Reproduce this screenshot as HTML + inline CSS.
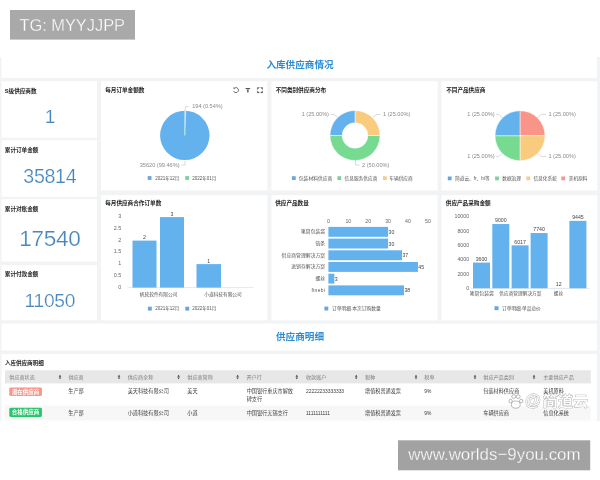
<!DOCTYPE html>
<html lang="zh"><head><meta charset="utf-8"><title>入库供应商情况</title>
<style>
html,body{margin:0;padding:0;width:600px;height:480px;overflow:hidden;background:#fff;font-family:"Liberation Sans","Noto Sans CJK SC",sans-serif;}
#root{position:relative;width:600px;height:480px;overflow:hidden;will-change:transform;}
#root>div{position:absolute;}
svg{position:absolute;left:0;top:0;}
svg text{font-family:"Liberation Sans","Noto Sans CJK SC",sans-serif;}
.tag{position:absolute;color:#fff;font-family:"Liberation Sans","Noto Sans CJK SC",sans-serif;white-space:nowrap;}
</style></head><body><div id="root">

<svg width="600" height="480" viewBox="0 0 600 480">
<rect x="0" y="57" width="600" height="364.2" fill="#f2f3f5" />
<rect x="1.5" y="57" width="595.5" height="21" fill="#fff" />
<rect x="1.5" y="323.6" width="595.5" height="27" fill="#fff" />
<rect x="1.5" y="354" width="595.5" height="66.7" fill="#fff" />
<rect x="1.5" y="81.3" width="95.5" height="56.4" fill="#fff" />
<rect x="1.5" y="140.2" width="95.5" height="56.5" fill="#fff" />
<rect x="1.5" y="199.2" width="95.5" height="62.4" fill="#fff" />
<rect x="1.5" y="265.2" width="95.5" height="55.1" fill="#fff" />
<rect x="101" y="81.3" width="166.3" height="109.2" fill="#fff" />
<rect x="101" y="195.2" width="166.3" height="125.2" fill="#fff" />
<rect x="271.4" y="81.3" width="166.2" height="109.2" fill="#fff" />
<rect x="271.4" y="195.2" width="166.2" height="125.2" fill="#fff" />
<rect x="441.5" y="81.3" width="155.8" height="109.2" fill="#fff" />
<rect x="441.5" y="195.2" width="155.8" height="125.2" fill="#fff" />
<text x="300" y="64.1" font-size="9.6" fill="#2b8bd4" font-weight="bold" text-anchor="middle" dominant-baseline="central" >入库供应商情况</text>
<text x="300" y="336.3" font-size="9.6" fill="#2b8bd4" font-weight="bold" text-anchor="middle" dominant-baseline="central" >供应商明细</text>
<text x="4.8" y="90.5" font-size="5.62" fill="#1c1c1c" font-weight="bold" text-anchor="start" dominant-baseline="central" >S级供应商数</text>
<text x="49.8" y="116.8" font-size="19" fill="#4787be" font-weight="normal" text-anchor="middle" dominant-baseline="central" stroke="#fff" stroke-width="0.22" letter-spacing="-0.3">1</text>
<text x="4.8" y="150" font-size="5.62" fill="#1c1c1c" font-weight="bold" text-anchor="start" dominant-baseline="central" >累计订单金额</text>
<text x="49.8" y="176.3" font-size="19.6" fill="#4787be" font-weight="normal" text-anchor="middle" dominant-baseline="central" stroke="#fff" stroke-width="0.22" letter-spacing="-0.3">35814</text>
<text x="4.8" y="208.5" font-size="5.62" fill="#1c1c1c" font-weight="bold" text-anchor="start" dominant-baseline="central" >累计对账金额</text>
<text x="49.8" y="238.8" font-size="22.6" fill="#4787be" font-weight="normal" text-anchor="middle" dominant-baseline="central" stroke="#fff" stroke-width="0.22" letter-spacing="-0.3">17540</text>
<text x="4.8" y="274" font-size="5.62" fill="#1c1c1c" font-weight="bold" text-anchor="start" dominant-baseline="central" >累计付款金额</text>
<text x="49.8" y="300.8" font-size="19.2" fill="#4787be" font-weight="normal" text-anchor="middle" dominant-baseline="central" stroke="#fff" stroke-width="0.22" letter-spacing="-0.3">11050</text>
<text x="105.2" y="90.4" font-size="5.62" fill="#1c1c1c" font-weight="bold" text-anchor="start" dominant-baseline="central" >每月订单金额数</text>
<text x="275.7" y="90.4" font-size="5.62" fill="#1c1c1c" font-weight="bold" text-anchor="start" dominant-baseline="central" >不同类别供应商分布</text>
<text x="446.2" y="90.4" font-size="5.62" fill="#1c1c1c" font-weight="bold" text-anchor="start" dominant-baseline="central" >不同产品供应商</text>
<text x="105.2" y="203" font-size="5.62" fill="#1c1c1c" font-weight="bold" text-anchor="start" dominant-baseline="central" >每月供应商合作订单数</text>
<text x="275.2" y="203" font-size="5.62" fill="#1c1c1c" font-weight="bold" text-anchor="start" dominant-baseline="central" >供应产品数量</text>
<text x="445.8" y="203" font-size="5.62" fill="#1c1c1c" font-weight="bold" text-anchor="start" dominant-baseline="central" >供应产品采购金额</text>
<circle cx="184.8" cy="135.4" r="24.7" fill="#63b2ee"/>
<path d="M184.8,135.4 L184.8,110.7 L185.70000000000002,110.7 Z" fill="#d9f3e0" stroke="#e8f6ec" stroke-width="0.5"/>
<polyline points="185.2,110.5 185.2,106.6 188.5,106.6" fill="none" stroke="#b5b5b5" stroke-width="0.5"/>
<text x="192.2" y="106.3" font-size="5.6" fill="#8a8a8a" font-weight="normal" text-anchor="start" dominant-baseline="central" >194 (0.54%)</text>
<polyline points="185,160.5 185,165 181.5,165" fill="none" stroke="#b5b5b5" stroke-width="0.5"/>
<text x="179.5" y="165" font-size="5.6" fill="#8a8a8a" font-weight="normal" text-anchor="end" dominant-baseline="central" >35620 (99.46%)</text>
<rect x="147.7" y="176.1" width="3.8" height="3.8" fill="#6aa6dc" />
<text x="155.3" y="178" font-size="4.5" fill="#555" font-weight="normal" text-anchor="start" dominant-baseline="central" >2021年12月</text>
<rect x="185.2" y="176.1" width="3.8" height="3.8" fill="#7fd0a0" />
<text x="192.2" y="178" font-size="4.5" fill="#555" font-weight="normal" text-anchor="start" dominant-baseline="central" >2022年01月</text>
<path d="M233.6,90.9 A2.5,2.5 0 1 0 234.3,88.3" fill="none" stroke="#555" stroke-width="0.85"/><path d="M233.2,87.6 l1.7,0.2 l-0.9,1.6 Z" fill="#555"/>
<path d="M245.6,88 h4.5 v0.9 h-4.5 Z M246.5,89.4 h2.7 l-0.7,1.4 v1.8 h-1.3 v-1.8 Z" fill="#555"/>
<path d="M257.3,89.6 v-2.1 h2.1 Z M260.5,87.5 h2.1 v2.1 Z M262.6,90.8 v2.1 h-2.1 Z M259.4,92.9 h-2.1 v-2.1 Z" fill="#555" stroke="#555" stroke-width="0.3"/>
<path d="M355.00,110.50 A25,25 0 0 1 380.00,135.50 L367.80,135.50 A12.8,12.8 0 0 0 355.00,122.70 Z" fill="#f8cb7f" stroke="#fff" stroke-width="0.5"/>
<path d="M380.00,135.50 A25,25 0 0 1 330.00,135.50 L342.20,135.50 A12.8,12.8 0 0 0 367.80,135.50 Z" fill="#76da91" stroke="#fff" stroke-width="0.5"/>
<path d="M330.00,135.50 A25,25 0 0 1 355.00,110.50 L355.00,122.70 A12.8,12.8 0 0 0 342.20,135.50 Z" fill="#63b2ee" stroke="#fff" stroke-width="0.5"/>
<polyline points="337.5,117 334,114.5 330.5,114.5" fill="none" stroke="#b5b5b5" stroke-width="0.5"/>
<text x="329" y="114.4" font-size="5.6" fill="#8a8a8a" font-weight="normal" text-anchor="end" dominant-baseline="central" >1 (25.00%)</text>
<polyline points="373,117 376.5,114.5 380.5,114.5" fill="none" stroke="#b5b5b5" stroke-width="0.5"/>
<text x="383" y="114.4" font-size="5.6" fill="#8a8a8a" font-weight="normal" text-anchor="start" dominant-baseline="central" >1 (25.00%)</text>
<polyline points="355.5,159.8 355.5,165 359.5,165" fill="none" stroke="#b5b5b5" stroke-width="0.5"/>
<text x="362" y="165" font-size="5.6" fill="#8a8a8a" font-weight="normal" text-anchor="start" dominant-baseline="central" >2 (50.00%)</text>
<rect x="291.9" y="176.2" width="3.8" height="3.8" fill="#6aa6dc" />
<text x="298.8" y="178.1" font-size="4.8" fill="#555" font-weight="normal" text-anchor="start" dominant-baseline="central" >包装材料供应商</text>
<rect x="337.4" y="176.2" width="3.8" height="3.8" fill="#7fd0a0" />
<text x="344.5" y="178.1" font-size="4.7" fill="#555" font-weight="normal" text-anchor="start" dominant-baseline="central" >信息服务供应商</text>
<rect x="382.9" y="176.2" width="3.8" height="3.8" fill="#f4cd8e" />
<text x="389.3" y="178.1" font-size="4.7" fill="#555" font-weight="normal" text-anchor="start" dominant-baseline="central" >车辆供应商</text>
<path d="M520,135.7 L520.00,110.70 A25,25 0 0 1 545.00,135.70 Z" fill="#f89588" stroke="#fff" stroke-width="0.5"/>
<path d="M520,135.7 L545.00,135.70 A25,25 0 0 1 520.00,160.70 Z" fill="#f8cb7f" stroke="#fff" stroke-width="0.5"/>
<path d="M520,135.7 L520.00,160.70 A25,25 0 0 1 495.00,135.70 Z" fill="#76da91" stroke="#fff" stroke-width="0.5"/>
<path d="M520,135.7 L495.00,135.70 A25,25 0 0 1 520.00,110.70 Z" fill="#63b2ee" stroke="#fff" stroke-width="0.5"/>
<polyline points="502.3,118 499,114.4 496,114.4" fill="none" stroke="#b5b5b5" stroke-width="0.5"/>
<text x="494.6" y="114.1" font-size="5.6" fill="#8a8a8a" font-weight="normal" text-anchor="end" dominant-baseline="central" >1 (25.00%)</text>
<polyline points="537.7,118 541,114.4 546,114.4" fill="none" stroke="#b5b5b5" stroke-width="0.5"/>
<text x="548.4" y="114.1" font-size="5.6" fill="#8a8a8a" font-weight="normal" text-anchor="start" dominant-baseline="central" >1 (25.00%)</text>
<polyline points="502.3,153.4 499,156.4 496,156.4" fill="none" stroke="#b5b5b5" stroke-width="0.5"/>
<text x="494.6" y="156.4" font-size="5.6" fill="#8a8a8a" font-weight="normal" text-anchor="end" dominant-baseline="central" >1 (25.00%)</text>
<polyline points="537.7,153.4 541,156.4 546,156.4" fill="none" stroke="#b5b5b5" stroke-width="0.5"/>
<text x="548.4" y="156.4" font-size="5.6" fill="#8a8a8a" font-weight="normal" text-anchor="start" dominant-baseline="central" >1 (25.00%)</text>
<rect x="447.8" y="176.5" width="3.8" height="3.8" fill="#6aa6dc" />
<text x="455" y="178.4" font-size="4.7" fill="#555" font-weight="normal" text-anchor="start" dominant-baseline="central" >简道云、fr、bi等</text>
<rect x="495.1" y="176.5" width="3.8" height="3.8" fill="#7fd0a0" />
<text x="502.2" y="178.4" font-size="4.7" fill="#555" font-weight="normal" text-anchor="start" dominant-baseline="central" >数据治理</text>
<rect x="526.3" y="176.5" width="3.8" height="3.8" fill="#f4cd8e" />
<text x="533.4" y="178.4" font-size="4.7" fill="#555" font-weight="normal" text-anchor="start" dominant-baseline="central" >信息化系统</text>
<rect x="561.3" y="176.5" width="3.8" height="3.8" fill="#f0988c" />
<text x="568.8" y="178.4" font-size="4.7" fill="#555" font-weight="normal" text-anchor="start" dominant-baseline="central" >美机原料</text>
<text x="121.3" y="216.10000000000002" font-size="5.4" fill="#666" font-weight="normal" text-anchor="end" dominant-baseline="central" >3</text>
<text x="121.3" y="227.85000000000002" font-size="5.4" fill="#666" font-weight="normal" text-anchor="end" dominant-baseline="central" >2.5</text>
<text x="121.3" y="239.60000000000002" font-size="5.4" fill="#666" font-weight="normal" text-anchor="end" dominant-baseline="central" >2</text>
<text x="121.3" y="251.35000000000002" font-size="5.4" fill="#666" font-weight="normal" text-anchor="end" dominant-baseline="central" >1.5</text>
<text x="121.3" y="263.1" font-size="5.4" fill="#666" font-weight="normal" text-anchor="end" dominant-baseline="central" >1</text>
<text x="121.3" y="274.85" font-size="5.4" fill="#666" font-weight="normal" text-anchor="end" dominant-baseline="central" >0.5</text>
<text x="121.3" y="286.6" font-size="5.4" fill="#666" font-weight="normal" text-anchor="end" dominant-baseline="central" >0</text>
<polyline points="128,287.6 254,287.6" fill="none" stroke="#d0d0d0" stroke-width="0.5"/>
<rect x="132.5" y="240.60000000000002" width="24.0" height="47.0" fill="#63b2ee" />
<text x="144.5" y="237.00000000000003" font-size="5.2" fill="#444" font-weight="normal" text-anchor="middle" dominant-baseline="central" >2</text>
<rect x="160" y="217.10000000000002" width="24" height="70.5" fill="#63b2ee" />
<text x="172.0" y="213.50000000000003" font-size="5.2" fill="#444" font-weight="normal" text-anchor="middle" dominant-baseline="central" >3</text>
<rect x="196.5" y="264.1" width="24.5" height="23.5" fill="#63b2ee" />
<text x="208.75" y="260.5" font-size="5.2" fill="#444" font-weight="normal" text-anchor="middle" dominant-baseline="central" >1</text>
<text x="158.6" y="294.6" font-size="4.7" fill="#555" font-weight="normal" text-anchor="middle" dominant-baseline="central" >帆软软件有限公司</text>
<text x="223" y="294.6" font-size="4.7" fill="#555" font-weight="normal" text-anchor="middle" dominant-baseline="central" >小道科技有限公司</text>
<rect x="147.9" y="306.7" width="3.9" height="3.9" fill="#6aa6dc" />
<text x="155.3" y="308.7" font-size="4.5" fill="#555" font-weight="normal" text-anchor="start" dominant-baseline="central" >2021年12月</text>
<rect x="185.3" y="306.7" width="3.9" height="3.9" fill="#6aa6dc" />
<text x="192.2" y="308.7" font-size="4.5" fill="#555" font-weight="normal" text-anchor="start" dominant-baseline="central" >2022年01月</text>
<text x="328.4" y="221" font-size="5.2" fill="#666" font-weight="normal" text-anchor="middle" dominant-baseline="central" >0</text>
<text x="348.29999999999995" y="221" font-size="5.2" fill="#666" font-weight="normal" text-anchor="middle" dominant-baseline="central" >10</text>
<text x="368.2" y="221" font-size="5.2" fill="#666" font-weight="normal" text-anchor="middle" dominant-baseline="central" >20</text>
<text x="388.09999999999997" y="221" font-size="5.2" fill="#666" font-weight="normal" text-anchor="middle" dominant-baseline="central" >30</text>
<text x="408.0" y="221" font-size="5.2" fill="#666" font-weight="normal" text-anchor="middle" dominant-baseline="central" >40</text>
<text x="427.9" y="221" font-size="5.2" fill="#666" font-weight="normal" text-anchor="middle" dominant-baseline="central" >50</text>
<rect x="328.4" y="226.9" width="59.7" height="9.9" fill="#63b2ee" />
<text x="325.2" y="231.85" font-size="4.85" fill="#555" font-weight="normal" text-anchor="end" dominant-baseline="central" >笔筒包装袋</text>
<text x="388.49999999999994" y="231.85" font-size="5.2" fill="#444" font-weight="normal" text-anchor="start" dominant-baseline="central" >30</text>
<rect x="328.4" y="238.6" width="59.7" height="9.9" fill="#63b2ee" />
<text x="325.2" y="243.54999999999998" font-size="4.85" fill="#555" font-weight="normal" text-anchor="end" dominant-baseline="central" >链条</text>
<text x="388.49999999999994" y="243.54999999999998" font-size="5.2" fill="#444" font-weight="normal" text-anchor="start" dominant-baseline="central" >30</text>
<rect x="328.4" y="250.3" width="73.63" height="9.9" fill="#63b2ee" />
<text x="325.2" y="255.25" font-size="4.85" fill="#555" font-weight="normal" text-anchor="end" dominant-baseline="central" >供应商管理解决方案</text>
<text x="402.42999999999995" y="255.25" font-size="5.2" fill="#444" font-weight="normal" text-anchor="start" dominant-baseline="central" >37</text>
<rect x="328.4" y="262.0" width="89.55" height="9.9" fill="#63b2ee" />
<text x="325.2" y="266.95" font-size="4.85" fill="#555" font-weight="normal" text-anchor="end" dominant-baseline="central" >进销存解决方案</text>
<text x="418.34999999999997" y="266.95" font-size="5.2" fill="#444" font-weight="normal" text-anchor="start" dominant-baseline="central" >45</text>
<rect x="328.4" y="273.7" width="5.97" height="9.9" fill="#63b2ee" />
<text x="325.2" y="278.65" font-size="4.85" fill="#555" font-weight="normal" text-anchor="end" dominant-baseline="central" >螺丝</text>
<text x="334.77" y="278.65" font-size="5.2" fill="#444" font-weight="normal" text-anchor="start" dominant-baseline="central" >3</text>
<rect x="328.4" y="285.40000000000003" width="75.62" height="9.9" fill="#63b2ee" />
<text x="325.2" y="290.35" font-size="4.85" fill="#555" font-weight="normal" text-anchor="end" dominant-baseline="central" letter-spacing="0.35">finebi</text>
<text x="404.41999999999996" y="290.35" font-size="5.2" fill="#444" font-weight="normal" text-anchor="start" dominant-baseline="central" >38</text>
<rect x="324.4" y="306.6" width="3.9" height="3.9" fill="#6aa6dc" />
<text x="331.9" y="308.6" font-size="4.78" fill="#555" font-weight="normal" text-anchor="start" dominant-baseline="central" >订单明细.本次订购数量</text>
<text x="469.2" y="216.4" font-size="5.3" fill="#666" font-weight="normal" text-anchor="end" dominant-baseline="central" >10000</text>
<text x="469.2" y="230.68" font-size="5.3" fill="#666" font-weight="normal" text-anchor="end" dominant-baseline="central" >8000</text>
<text x="469.2" y="244.96" font-size="5.3" fill="#666" font-weight="normal" text-anchor="end" dominant-baseline="central" >6000</text>
<text x="469.2" y="259.24" font-size="5.3" fill="#666" font-weight="normal" text-anchor="end" dominant-baseline="central" >4000</text>
<text x="469.2" y="273.52" font-size="5.3" fill="#666" font-weight="normal" text-anchor="end" dominant-baseline="central" >2000</text>
<text x="469.2" y="287.8" font-size="5.3" fill="#666" font-weight="normal" text-anchor="end" dominant-baseline="central" >0</text>
<polyline points="471,288.3 590,288.3" fill="none" stroke="#d0d0d0" stroke-width="0.5"/>
<rect x="473" y="262.596" width="17" height="25.704" fill="#63b2ee" />
<text x="481.5" y="258.796" font-size="5.2" fill="#444" font-weight="normal" text-anchor="middle" dominant-baseline="central" >3600</text>
<rect x="492.3" y="224.04000000000002" width="17" height="64.26" fill="#63b2ee" />
<text x="500.8" y="220.24" font-size="5.2" fill="#444" font-weight="normal" text-anchor="middle" dominant-baseline="central" >9000</text>
<rect x="511.6" y="245.33862" width="17" height="42.961380000000005" fill="#63b2ee" />
<text x="520.1" y="241.53861999999998" font-size="5.2" fill="#444" font-weight="normal" text-anchor="middle" dominant-baseline="central" >6017</text>
<rect x="530.6" y="233.03640000000001" width="17" height="55.263600000000004" fill="#63b2ee" />
<text x="539.1" y="229.2364" font-size="5.2" fill="#444" font-weight="normal" text-anchor="middle" dominant-baseline="central" >7740</text>
<rect x="550.2" y="288.21432" width="17" height="0.08568" fill="#63b2ee" />
<text x="558.7" y="284.41432" font-size="5.2" fill="#444" font-weight="normal" text-anchor="middle" dominant-baseline="central" >12</text>
<rect x="569.4" y="220.86270000000002" width="17" height="67.43730000000001" fill="#63b2ee" />
<text x="577.9" y="217.0627" font-size="5.2" fill="#444" font-weight="normal" text-anchor="middle" dominant-baseline="central" >9445</text>
<text x="481.8" y="293.8" font-size="4.85" fill="#555" font-weight="normal" text-anchor="middle" dominant-baseline="central" >笔筒包装袋</text>
<text x="520.4" y="293.8" font-size="4.7" fill="#555" font-weight="normal" text-anchor="middle" dominant-baseline="central" >供应商管理解决方案</text>
<text x="558.4" y="293.8" font-size="4.7" fill="#555" font-weight="normal" text-anchor="middle" dominant-baseline="central" >螺丝</text>
<rect x="494.5" y="306.2" width="4" height="4" fill="#6aa6dc" />
<text x="502" y="308.5" font-size="4.7" fill="#555" font-weight="normal" text-anchor="start" dominant-baseline="central" >订单明细.单品总价</text>
<text x="4.9" y="363.2" font-size="5.55" fill="#222" font-weight="bold" text-anchor="start" dominant-baseline="central" >入库供应商明细</text>
<rect x="5" y="370.3" width="585.8" height="13.1" fill="#e7e7e7" />
<rect x="5" y="405.6" width="585.8" height="14.6" fill="#f7f7f7" />
<text x="9.3" y="377.2" font-size="5.1" fill="#7d7d7d" font-weight="normal" text-anchor="start" dominant-baseline="central" >供应商状态</text>
<text x="68.4" y="377.2" font-size="5.1" fill="#7d7d7d" font-weight="normal" text-anchor="start" dominant-baseline="central" >供应商</text>
<text x="127.8" y="377.2" font-size="5.1" fill="#7d7d7d" font-weight="normal" text-anchor="start" dominant-baseline="central" >供应商全称</text>
<text x="187.3" y="377.2" font-size="5.1" fill="#7d7d7d" font-weight="normal" text-anchor="start" dominant-baseline="central" >供应商简称</text>
<text x="246.6" y="377.2" font-size="5.1" fill="#7d7d7d" font-weight="normal" text-anchor="start" dominant-baseline="central" >开户行</text>
<text x="306" y="377.2" font-size="5.1" fill="#7d7d7d" font-weight="normal" text-anchor="start" dominant-baseline="central" >收款账户</text>
<text x="365" y="377.2" font-size="5.1" fill="#7d7d7d" font-weight="normal" text-anchor="start" dominant-baseline="central" >税种</text>
<text x="424.3" y="377.2" font-size="5.1" fill="#7d7d7d" font-weight="normal" text-anchor="start" dominant-baseline="central" >税率</text>
<text x="483.3" y="377.2" font-size="5.1" fill="#7d7d7d" font-weight="normal" text-anchor="start" dominant-baseline="central" >供应产品类别</text>
<text x="543.2" y="377.2" font-size="5.1" fill="#7d7d7d" font-weight="normal" text-anchor="start" dominant-baseline="central" >主要供应产品</text>
<path d="M58.75,376.75 l1.25,-1.9 l1.25,1.9 Z M58.75,377.45 l1.25,1.9 l1.25,-1.9 Z" fill="#3c3c3c"/>
<path d="M117.75,376.75 l1.25,-1.9 l1.25,1.9 Z M117.75,377.45 l1.25,1.9 l1.25,-1.9 Z" fill="#3c3c3c"/>
<path d="M177.35,376.75 l1.25,-1.9 l1.25,1.9 Z M177.35,377.45 l1.25,1.9 l1.25,-1.9 Z" fill="#3c3c3c"/>
<path d="M236.35,376.75 l1.25,-1.9 l1.25,1.9 Z M236.35,377.45 l1.25,1.9 l1.25,-1.9 Z" fill="#3c3c3c"/>
<path d="M295.55,376.75 l1.25,-1.9 l1.25,1.9 Z M295.55,377.45 l1.25,1.9 l1.25,-1.9 Z" fill="#3c3c3c"/>
<path d="M354.95,376.75 l1.25,-1.9 l1.25,1.9 Z M354.95,377.45 l1.25,1.9 l1.25,-1.9 Z" fill="#3c3c3c"/>
<path d="M414.75,376.75 l1.25,-1.9 l1.25,1.9 Z M414.75,377.45 l1.25,1.9 l1.25,-1.9 Z" fill="#3c3c3c"/>
<path d="M473.75,376.75 l1.25,-1.9 l1.25,1.9 Z M473.75,377.45 l1.25,1.9 l1.25,-1.9 Z" fill="#3c3c3c"/>
<path d="M532.75,376.75 l1.25,-1.9 l1.25,1.9 Z M532.75,377.45 l1.25,1.9 l1.25,-1.9 Z" fill="#3c3c3c"/>
<rect x="9.3" y="387.4" width="32.6" height="8.6" rx="1.4" fill="#f89588"/>
<text x="25.6" y="391.7" font-size="5.5" fill="#fff" font-weight="bold" text-anchor="middle" dominant-baseline="central" >潜在供应商</text>
<rect x="9.3" y="407.7" width="32.6" height="9.2" rx="1.4" fill="#2bc46d"/>
<text x="25.6" y="412.3" font-size="5.5" fill="#fff" font-weight="bold" text-anchor="middle" dominant-baseline="central" >合格供应商</text>
<text x="68.3" y="390.8" font-size="5.15" fill="#3a3a3a" font-weight="normal" text-anchor="start" dominant-baseline="central" >生产部</text>
<text x="127.7" y="390.8" font-size="5.15" fill="#3a3a3a" font-weight="normal" text-anchor="start" dominant-baseline="central" >美天科技有限公司</text>
<text x="187.3" y="390.8" font-size="5.15" fill="#3a3a3a" font-weight="normal" text-anchor="start" dominant-baseline="central" >美天</text>
<text x="246.7" y="390.8" font-size="5.15" fill="#3a3a3a" font-weight="normal" text-anchor="start" dominant-baseline="central" >中国银行重庆市解放</text>
<text x="306" y="391.90000000000003" font-size="4.9" fill="#3a3a3a" font-weight="normal" text-anchor="start" dominant-baseline="central" >22222233333333</text>
<text x="365" y="390.8" font-size="5.15" fill="#3a3a3a" font-weight="normal" text-anchor="start" dominant-baseline="central" >增值税普通发票</text>
<text x="424.3" y="391.90000000000003" font-size="4.9" fill="#3a3a3a" font-weight="normal" text-anchor="start" dominant-baseline="central" >9%</text>
<text x="483.3" y="390.8" font-size="5.15" fill="#3a3a3a" font-weight="normal" text-anchor="start" dominant-baseline="central" >包装材料供应商</text>
<text x="543.3" y="390.8" font-size="5.15" fill="#3a3a3a" font-weight="normal" text-anchor="start" dominant-baseline="central" >美机原料</text>
<text x="68.3" y="412.8" font-size="5.15" fill="#3a3a3a" font-weight="normal" text-anchor="start" dominant-baseline="central" >生产部</text>
<text x="127.7" y="412.8" font-size="5.15" fill="#3a3a3a" font-weight="normal" text-anchor="start" dominant-baseline="central" >小道科技有限公司</text>
<text x="187.3" y="412.8" font-size="5.15" fill="#3a3a3a" font-weight="normal" text-anchor="start" dominant-baseline="central" >小道</text>
<text x="246.7" y="412.8" font-size="5.15" fill="#3a3a3a" font-weight="normal" text-anchor="start" dominant-baseline="central" >中国银行无锡支行</text>
<text x="306" y="413.90000000000003" font-size="4.9" fill="#3a3a3a" font-weight="normal" text-anchor="start" dominant-baseline="central" >1111111111</text>
<text x="365" y="412.8" font-size="5.15" fill="#3a3a3a" font-weight="normal" text-anchor="start" dominant-baseline="central" >增值税普通发票</text>
<text x="424.3" y="413.90000000000003" font-size="4.9" fill="#3a3a3a" font-weight="normal" text-anchor="start" dominant-baseline="central" >9%</text>
<text x="483.3" y="412.8" font-size="5.15" fill="#3a3a3a" font-weight="normal" text-anchor="start" dominant-baseline="central" >车辆供应商</text>
<text x="543.3" y="412.8" font-size="5.15" fill="#3a3a3a" font-weight="normal" text-anchor="start" dominant-baseline="central" >信息化系统</text>
<text x="246.7" y="398.6" font-size="5.15" fill="#3a3a3a" font-weight="normal" text-anchor="start" dominant-baseline="central" >碑支行</text>
<g font-weight="bold" fill="#fff" fill-opacity="0.9" stroke="#8c8c8c" stroke-opacity="0.75" stroke-width="0.8" paint-order="stroke"><text x="533" y="400.4" font-size="16.2" text-anchor="middle" dominant-baseline="central">@</text><text transform="translate(542.8,400.9) scale(1.06,0.92)" x="0" y="0" font-size="14.3" dominant-baseline="central">简道云</text></g>
<g fill="#fff" fill-opacity="0.92" stroke="#8c8c8c" stroke-opacity="0.75" stroke-width="0.8"><ellipse cx="515.8" cy="404.6" rx="4.4" ry="3.6"/><circle cx="510.6" cy="401" r="1.7"/><circle cx="513.7" cy="396.6" r="1.9"/><circle cx="518.2" cy="396.6" r="1.9"/><circle cx="521.2" cy="401" r="1.7"/></g>
<rect x="10" y="10" width="125" height="29.6" fill="#a9a9a9" />
<rect x="398" y="440.3" width="192.2" height="30" fill="#a2a2a2" />
</svg>
<div class="tag" style="left:19.4px;top:10px;height:29.6px;line-height:31.6px;font-size:16.4px;-webkit-text-stroke:0.3px #a9a9a9;">TG: MYYJJPP</div>
<div class="tag" style="left:408.3px;top:440.6px;height:29px;line-height:28.4px;font-size:16.9px;-webkit-text-stroke:0.28px #a2a2a2;">www.worlds&#8722;9you.com</div>
</div></body></html>
